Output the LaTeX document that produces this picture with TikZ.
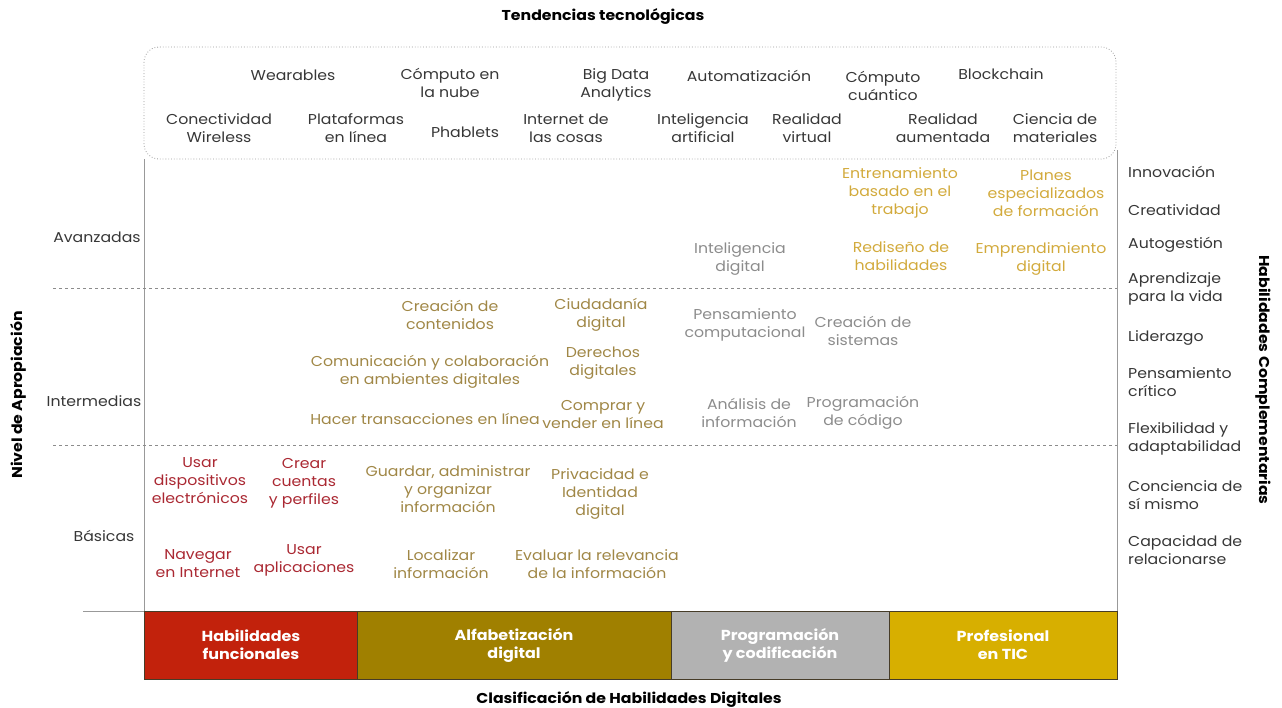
\documentclass[tikz,border=0pt]{standalone}
\usepackage{fontspec}
\setmainfont{Poppins}[FakeStretch=1.1]
\begin{document}
\definecolor{redT}{RGB}{170,40,50}
\definecolor{oliveT}{RGB}{160,135,70}
\definecolor{greyT}{RGB}{140,140,140}
\definecolor{goldT}{RGB}{210,170,60}
\definecolor{darkT}{RGB}{55,55,55}
\definecolor{redB}{RGB}{194,34,12}
\definecolor{oliveB}{RGB}{160,128,0}
\definecolor{greyB}{RGB}{178,178,178}
\definecolor{goldB}{RGB}{215,175,0}
\definecolor{edgeB}{RGB}{70,60,40}
\begin{tikzpicture}[x=1pt,y=-1pt,
  txt/.style={align=center,inner sep=0pt,font=\fontsize{14.3}{18}\selectfont,text=darkT},
  rt/.style={txt,text=redT},
  ot/.style={txt,text=oliveT},
  gt/.style={txt,text=greyT},
  yt/.style={txt,text=goldT},
  side/.style={txt,align=left,anchor=west},
  title/.style={inner sep=0pt,font=\fontsize{14.3}{17}\selectfont\bfseries,text=black},
  barlbl/.style={align=center,inner sep=0pt,font=\fontsize{14.5}{18}\selectfont\bfseries,text=white},
  bar/.style={draw=edgeB,line width=0.8pt},
  axis/.style={draw=gray!80,line width=0.8pt},
  sep/.style={draw=gray!90,dashed,line width=0.7pt}
]
\useasboundingbox (0,0) rectangle (1282,707);
% titles
\node[title] (t1) at (603,17) {Tendencias tecnológicas};
\node[title] (t2) at (629,699) {Clasificación de Habilidades Digitales};
\node[title,rotate=90] (t3) at (18,395) {Nivel de Apropiación};
\node[title,rotate=-90] (t4) at (1263,380) {Habilidades Complementarias};
% box
\draw[gray!80,dotted,line width=0.8pt,rounded corners=15pt] (144,47) rectangle (1116,159);
% axes
\coordinate (la) at (144,159);
\coordinate (lb) at (144,611);
\coordinate (ra) at (1117,150);
\coordinate (rb) at (1117,611);
\coordinate (ha) at (83,611);
\draw[axis] (la) -- (lb);
\draw[axis] (ra) -- (rb);
\draw[axis] (ha) -- (lb);
\coordinate (d1a) at (53,288);
\coordinate (d1b) at (1117,288);
\coordinate (d2a) at (53,445);
\coordinate (d2b) at (1117,445);
\draw[sep] (d1a) -- (d1b);
\draw[sep] (d2a) -- (d2b);
% bars
\path[bar,fill=redB] (144,611) rectangle (357,679);
\path[bar,fill=oliveB] (357,611) rectangle (671,679);
\path[bar,fill=greyB] (671,611) rectangle (889,679);
\path[bar,fill=goldB] (889,611) rectangle (1117,679);
\node[barlbl] (b1) at (251,645) {Habilidades\\funcionales};
\node[barlbl] (b2) at (514,645) {Alfabetización\\digital};
\node[barlbl] (b3) at (780,645) {Programación\\y codificación};
\node[barlbl] (b4) at (1003,645) {Profesional\\en TIC};
% top box items
\node[txt] (w1) at (293,75) {Wearables};
\node[txt] (w2) at (450,83) {Cómputo en\\la nube};
\node[txt] (w3) at (616,85) {Big Data\\Analytics};
\node[txt] (w4) at (749,76) {Automatización};
\node[txt] (w5) at (883,86) {Cómputo\\cuántico};
\node[txt] (w6) at (1001,74) {Blockchain};
\node[txt] (w7) at (219,128) {Conectividad\\Wireless};
\node[txt] (w8) at (356,128) {Plataformas\\en línea};
\node[txt] (w9) at (465,132) {Phablets};
\node[txt] (w10) at (566,128) {Internet de\\las cosas};
\node[txt] (w11) at (703,128) {Inteligencia\\artificial};
\node[txt] (w12) at (807,128) {Realidad\\virtual};
\node[txt] (w13) at (943,128) {Realidad\\aumentada};
\node[txt] (w14) at (1055,128) {Ciencia de\\materiales};
% level labels
\node[txt] (l1) at (97,237) {Avanzadas};
\node[txt] (l2) at (94,401) {Intermedias};
\node[txt] (l3) at (104,536) {Básicas};
% right labels
\node[side] (s1) at (1128,172) {Innovación};
\node[side] (s2) at (1128,210) {Creatividad};
\node[side] (s3) at (1128,245) {Autogestión};
\node[side] (s4) at (1128,289) {Aprendizaje\\para la vida};
\node[side] (s5) at (1128,338) {Liderazgo};
\node[side] (s6) at (1128,382) {Pensamiento\\crítico};
\node[side] (s7) at (1128,439) {Flexibilidad y\\adaptabilidad};
\node[side] (s8) at (1128,495) {Conciencia de\\sí mismo};
\node[side] (s9) at (1128,550) {Capacidad de\\relacionarse};
% avanzadas
\node[yt] (a1) at (900,193) {Entrenamiento\\basado en el\\trabajo};
\node[yt] (a2) at (1046,193) {Planes\\especializados\\de formación};
\node[gt] (a3) at (740,259) {Inteligencia\\digital};
\node[yt] (a4) at (901,256) {Rediseño de\\habilidades};
\node[yt] (a5) at (1041,259) {Emprendimiento\\digital};
% intermedias
\node[ot] (i1) at (450,315) {Creación de\\contenidos};
\node[ot] (i2) at (601,315) {Ciudadanía\\digital};
\node[gt] (i3) at (745,325) {Pensamiento\\computacional};
\node[gt] (i4) at (863,331) {Creación de\\sistemas};
\node[ot] (i5) at (430,372) {Comunicación y colaboración\\en ambientes digitales};
\node[ot] (i6) at (603,363) {Derechos\\digitales};
\node[ot] (i7) at (425,419) {Hacer transacciones en línea};
\node[ot] (i8) at (603,415) {Comprar y\\vender en línea};
\node[gt] (i9) at (749,413) {Análisis de\\información};
\node[gt] (i10) at (863,413) {Programación\\de código};
% basicas
\node[rt] (c1) at (200,481) {Usar\\dispositivos\\electrónicos};
\node[rt] (c2) at (304,483) {Crear\\cuentas\\y perfiles};
\node[ot] (c3) at (448,489) {Guardar, administrar\\y organizar\\información};
\node[ot] (c4) at (600,494) {Privacidad e\\Identidad\\digital};
\node[rt] (c5) at (198,564) {Navegar\\en Internet};
\node[rt] (c6) at (304,560) {Usar\\aplicaciones};
\node[ot] (c7) at (441,564) {Localizar\\información};
\node[ot] (c8) at (597,564) {Evaluar la relevancia\\de la información};
\end{tikzpicture}
\end{document}
